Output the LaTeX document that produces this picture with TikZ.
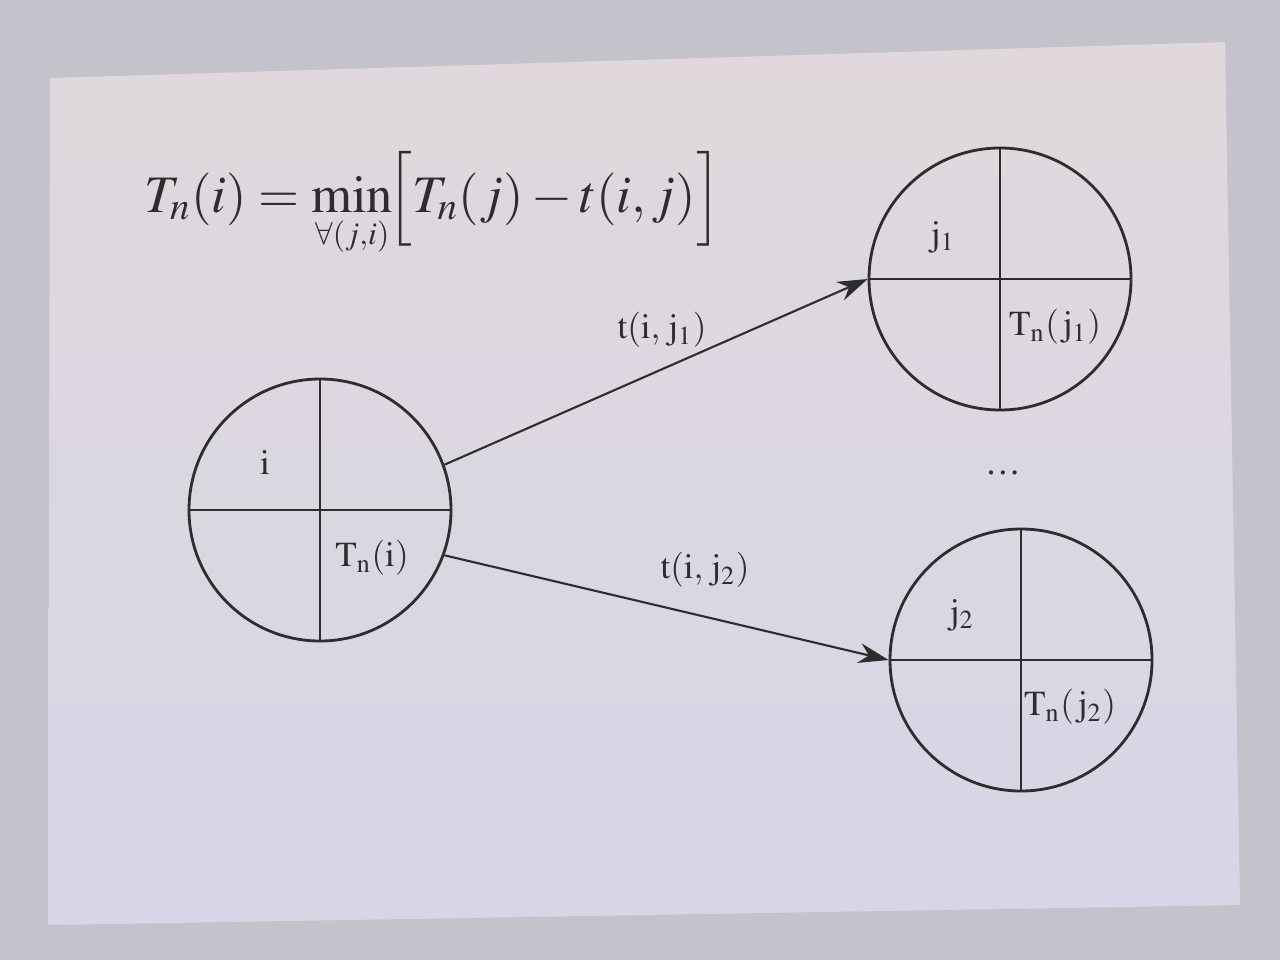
\documentclass[tikz,border=0pt]{standalone}
\usepackage{mathptmx}
\usepackage[no-math]{fontspec}
\setmainfont{Liberation Serif}
\usetikzlibrary{arrows.meta, calc}

\definecolor{wallgray}{RGB}{196,194,202}
\definecolor{papertop}{RGB}{224,216,220}
\definecolor{papermid}{RGB}{226,230,210}
\definecolor{paperbot}{RGB}{214,214,230}
\definecolor{ink}{RGB}{45,45,45}

\begin{document}
\begin{tikzpicture}[
    >={Stealth[length=3mm, width=2mm]}, % Set default arrow tip style
    quad/.style={draw=ink, thick, circle, minimum size=2.62cm, inner sep=0pt}, % Style for split circles
    lbl/.style={text=ink, font=\fontsize{10}{12}\selectfont}, % Style for small labels
    formula/.style={text=ink, font=\fontsize{15}{18}\selectfont}
]

% Wall and sheet
\fill[wallgray] (0,0) rectangle (12.8,9.6);
\useasboundingbox (0,0) rectangle (12.8,9.6);
\shade[top color=papertop, middle color=papermid, bottom color=paperbot]
    (0.5,8.82) -- (12.25,9.18) -- (12.4,0.55) -- (0.48,0.35) -- cycle;

% Formula
\node[formula, anchor=base west, inner sep=0pt] (eq) at (1.44,7.48)
    {$T_n(i) = \min\limits_{\scriptscriptstyle\forall(j,i)}\!\Bigl[T_n(j) - t(i,j)\Bigr]$};

% Circles
\node[quad] (ni)  at (3.20,4.50) {};
\node[quad] (nj1) at (10.00,6.81) {};
\node[quad] (nj2) at (10.21,3.00) {};
\foreach \n in {ni,nj1,nj2}
    \draw[ink, thick] (\n.north) -- (\n.south) (\n.west) -- (\n.east);

% Quadrant labels
\node[lbl] (li)   at ($(ni)+(-0.55,0.48)$)  {$\mathrm{i}$};
\node[lbl] (lti)  at ($(ni)+(0.52,-0.48)$)  {$\mathrm{T_n(i)}$};
\node[lbl] (lj1)  at ($(nj1)+(-0.57,0.42)$) {$\mathrm{j_1}$};
\node[lbl] (ltj1) at ($(nj1)+(0.55,-0.48)$) {$\mathrm{T_n(\,j_1)}$};
\node[lbl] (lj2)  at ($(nj2)+(-0.59,0.45)$) {$\mathrm{j_2}$};
\node[lbl] (ltj2) at ($(nj2)+(0.49,-0.47)$) {$\mathrm{T_n(\,j_2)}$};

% Links
\draw[->, ink, semithick] (ni.20) -- (nj1.west);
\draw[->, ink, semithick] (ni.-20) -- (nj2.west);
\node[lbl] (t1) at (6.62,6.30) {$\mathrm{t(i,\,j_1)}$};
\node[lbl] (t2) at (7.05,3.90) {$\mathrm{t(i,\,j_2)}$};

% Dots between the right circles
\node[lbl] (dots) at (10.03,4.87) {\dots};

\end{tikzpicture}
\end{document}
